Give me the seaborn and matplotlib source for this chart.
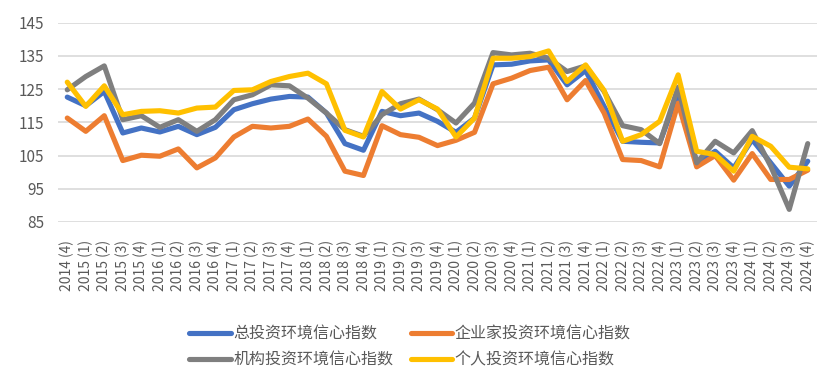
import numpy as np
import pandas as pd
import matplotlib
matplotlib.use("Agg")
import matplotlib.pyplot as plt
import seaborn as sns

# quarters
quarters = ["2014 (4)"] + [f"{y} ({q})" for y in range(2015, 2025) for q in (1, 2, 3, 4)]

total = [122.6, 120.0, 124.3, 111.8, 113.3, 112.1, 113.8, 111.3, 113.5, 118.8,
         120.6, 122.0, 122.8, 122.6, 117.8, 108.6, 106.6, 118.3, 117.0, 117.8,
         115.3, 112.0, 116.3, 132.3, 132.5, 133.5, 133.8, 126.3, 130.6, 119.8,
         109.3, 109.0, 108.8, 123.8, 102.8, 106.3, 101.3, 109.8, 102.8, 95.8, 103.3]
entrepreneur = [116.3, 112.3, 117.0, 103.5, 105.1, 104.8, 107.0, 101.3, 104.3, 110.6,
                113.8, 113.3, 113.8, 116.0, 110.8, 100.3, 99.0, 114.0, 111.3, 110.5,
                108.0, 109.6, 112.0, 126.6, 128.3, 130.6, 131.6, 121.8, 127.6, 117.8,
                103.8, 103.5, 101.6, 120.8, 101.6, 105.0, 97.6, 105.6, 97.8, 97.8, 100.6]
institution = [124.8, 128.8, 132.0, 115.8, 117.0, 113.5, 115.8, 112.3, 115.8, 121.8,
               123.3, 126.3, 126.0, 122.3, 117.8, 112.8, 110.8, 117.3, 120.6, 122.0,
               118.8, 114.8, 120.8, 136.0, 135.3, 135.8, 134.3, 130.3, 132.0, 124.3,
               114.0, 112.8, 108.6, 125.6, 102.8, 109.3, 105.8, 112.5, 101.8, 88.8, 108.6]
individual = [127.1, 119.8, 126.0, 117.3, 118.3, 118.5, 117.8, 119.3, 119.6, 124.6,
              124.8, 127.3, 128.8, 129.8, 126.6, 112.6, 110.6, 124.3, 119.0, 121.8,
              119.0, 110.6, 116.3, 134.3, 134.3, 134.8, 136.5, 127.3, 132.3, 124.6,
              109.3, 111.3, 115.3, 129.3, 106.3, 105.3, 100.3, 110.8, 107.8, 101.5, 101.0]

names = ["总投资环境信心指数", "企业家投资环境信心指数", "机构投资环境信心指数", "个人投资环境信心指数"]
series = [total, entrepreneur, institution, individual]
colors = ["#4472C4", "#ED7D31", "#7F7F7F", "#FFC000"]

rows = []
for name, vals in zip(names, series):
    for i, v in enumerate(vals):
        rows.append({"idx": i, "series": name, "value": v})
df = pd.DataFrame(rows)

sns.set_theme(style="white")
plt.rcParams["font.family"] = ["Noto Sans CJK SC", "DejaVu Sans"]

fig = plt.figure(figsize=(8.4, 3.84), dpi=100)
ax = fig.add_axes([58 / 840, 1 - 222 / 384, (817 - 58) / 840, (222 - 22.7) / 384])

sns.lineplot(data=df, x="idx", y="value", hue="series", hue_order=names,
             palette=dict(zip(names, colors)), linewidth=3.7, ax=ax,
             legend=False, sort=False)

ax.set_xlim(-0.5, len(quarters) - 0.5)
ax.set_ylim(85, 145)
ax.set_yticks([85, 95, 105, 115, 125, 135, 145])
ax.set_xticks(range(len(quarters)))
ax.set_xticklabels(quarters, rotation=90)
ax.set_xlabel("")
ax.set_ylabel("")
ax.grid(axis="y", color="#D9D9D9", linewidth=1.2)
ax.set_axisbelow(True)
for s in ax.spines.values():
    s.set_visible(False)
ax.tick_params(axis="y", length=0, pad=10, labelsize=11, labelcolor="#595959")
ax.tick_params(axis="x", length=0, pad=13, labelsize=10, labelcolor="#595959")

from matplotlib.lines import Line2D
order = [0, 2, 1, 3]
handles = [Line2D([0], [0], color=colors[k], linewidth=3.7, solid_capstyle="round") for k in order]
labels = [names[k] for k in order]
fig.legend(handles, labels, ncol=2, loc="center", bbox_to_anchor=(410 / 840, 1 - 347 / 384),
           frameon=False, fontsize=11.5, handlelength=2.6, handletextpad=0.15,
           columnspacing=1.1, labelspacing=0.6, labelcolor="#595959")

fig.savefig("out.png", dpi=100)
